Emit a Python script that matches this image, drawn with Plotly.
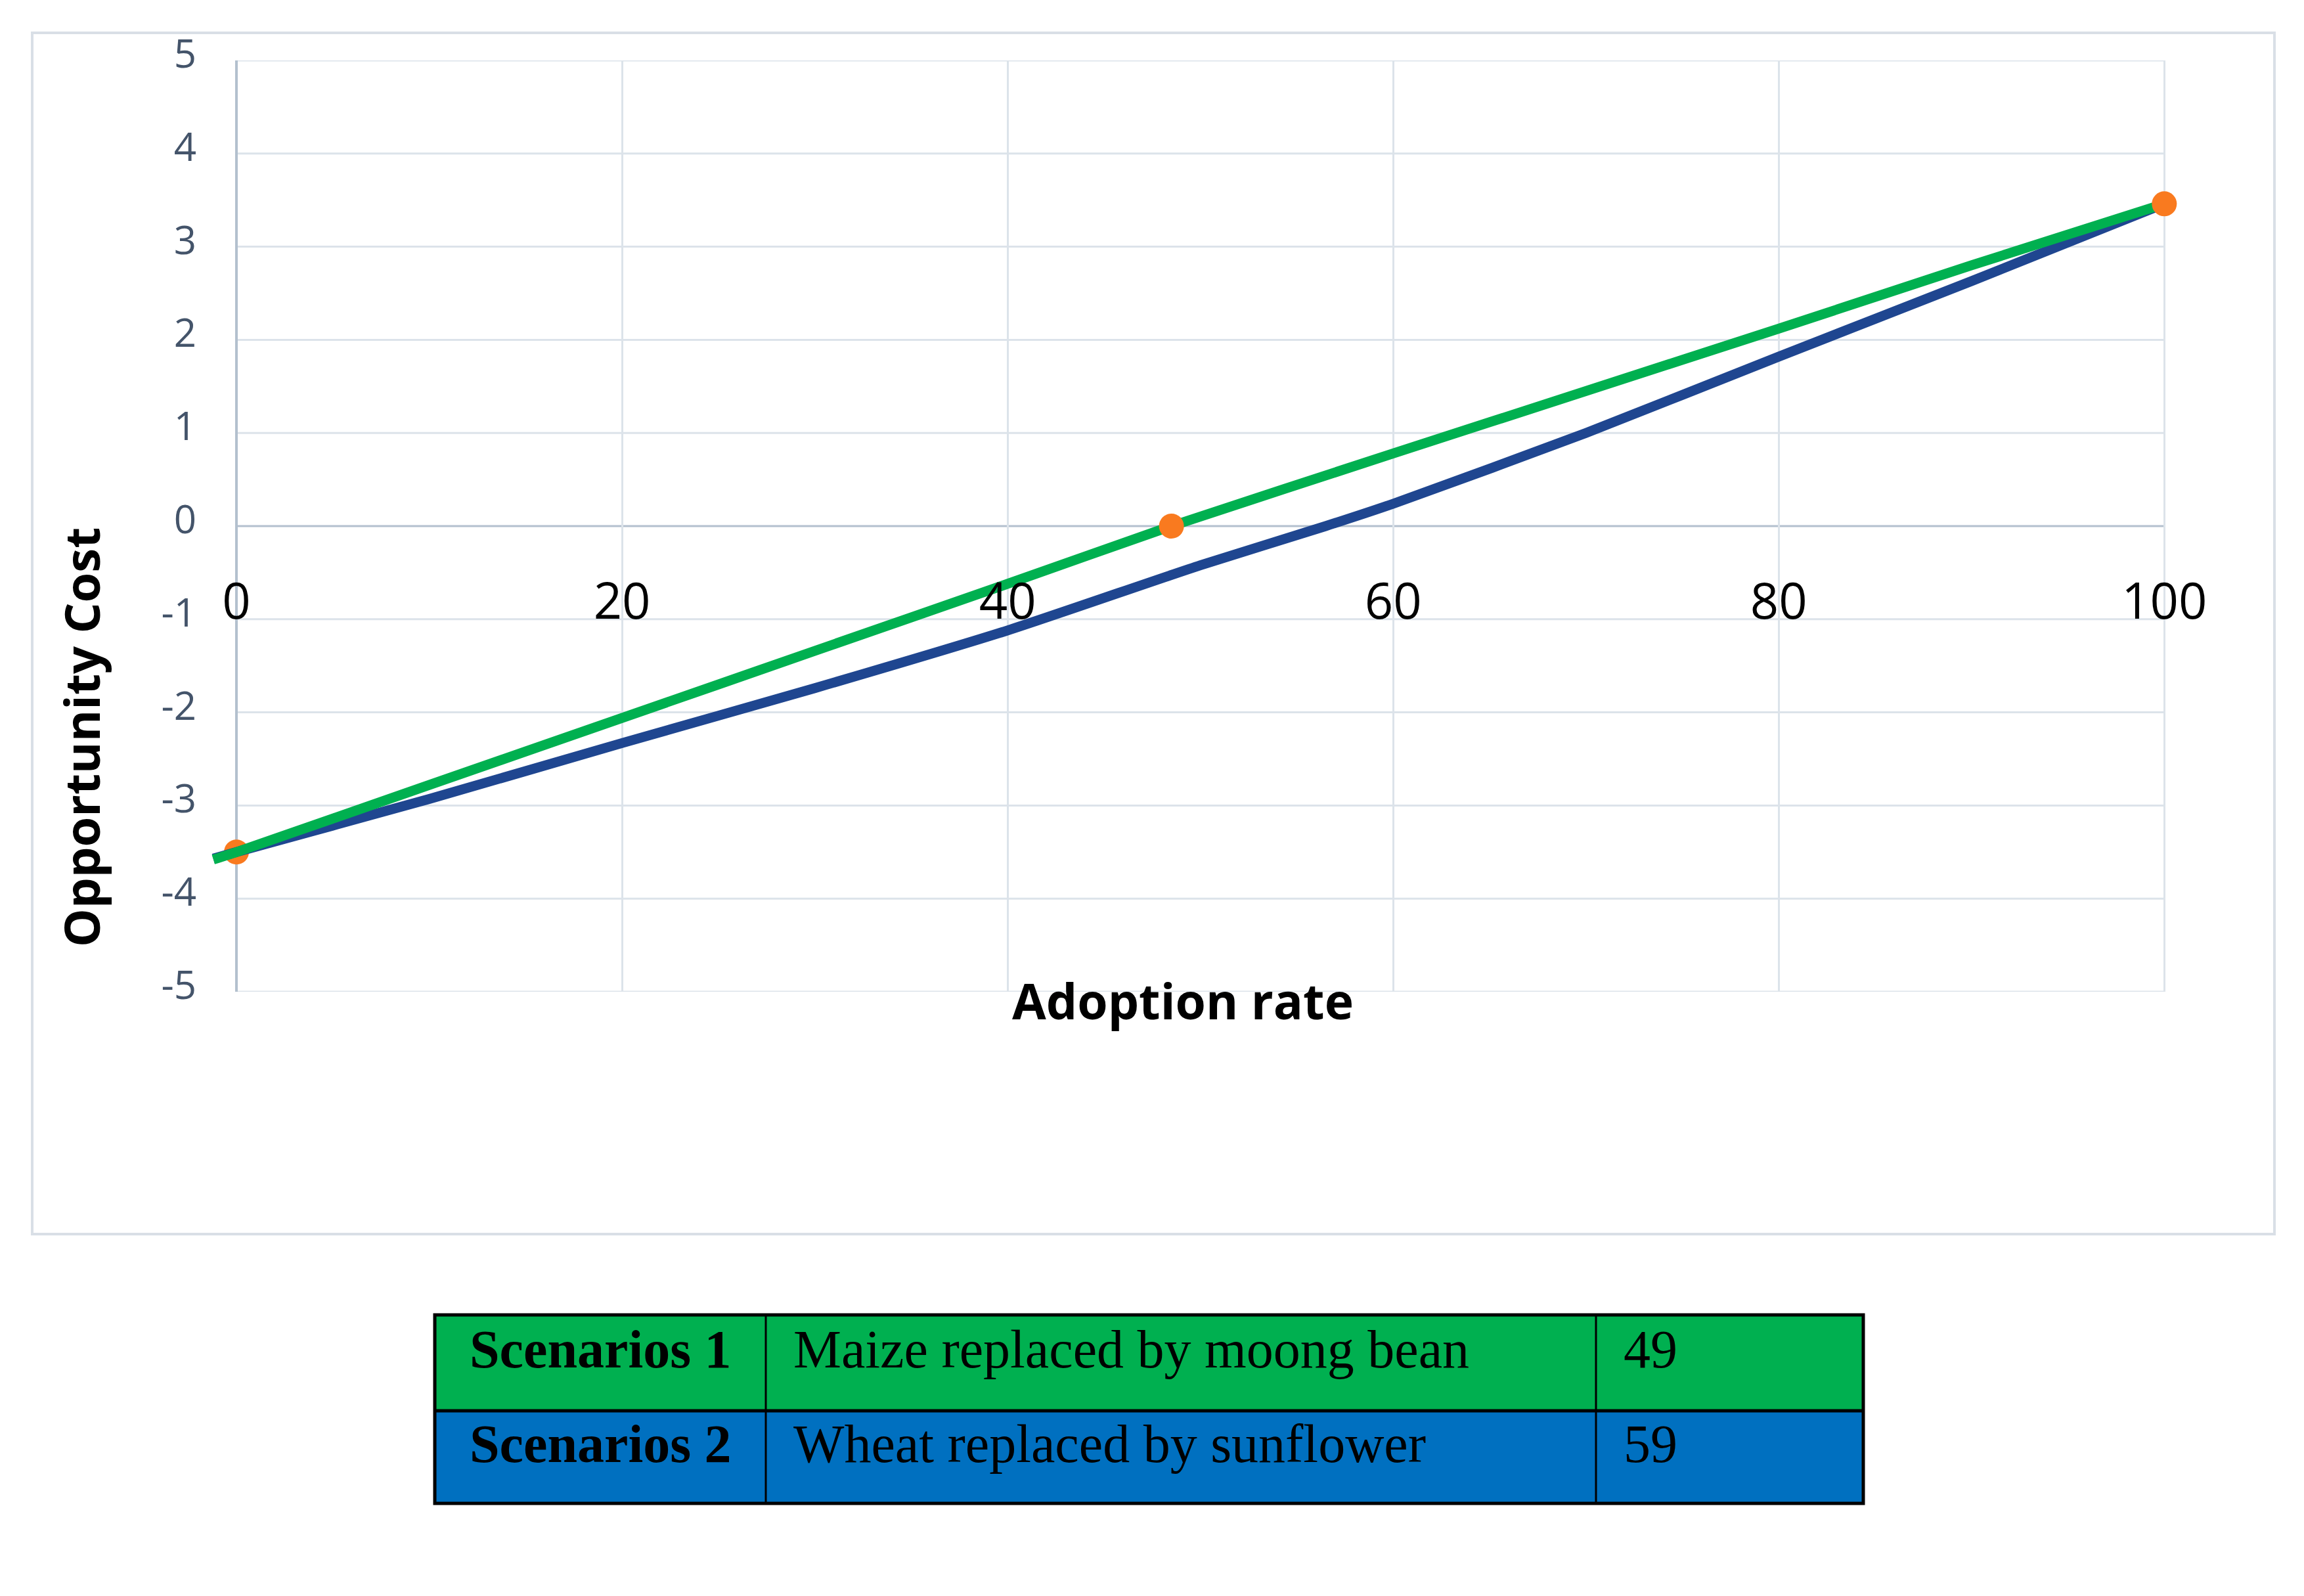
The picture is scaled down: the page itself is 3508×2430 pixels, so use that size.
import plotly.graph_objects as go

W, H = 3508, 2430

# ---------------- data ----------------
adoption_rate = [-1.2, 0, 10, 20, 30, 40, 48.5, 60, 70, 80, 90, 100]
scenario1_cost = [-3.58, -3.5, -2.78, -2.06, -1.34, -0.62, 0.0, 0.78, 1.45, 2.12, 2.8, 3.46]
adoption_rate2 = [-1.2, 0, 10, 20, 30, 40, 50, 56.5, 60, 70, 80, 90, 100]
scenario2_cost = [-3.57, -3.5, -2.93, -2.33, -1.74, -1.12, -0.42, 0.0, 0.24, 1.0, 1.82, 2.63, 3.46]
point_x_below = [0]
point_y_below = [-3.5]
point_x_above = [48.5, 100]
point_y_above = [0.0, 3.46]

x_ticks = [0, 20, 40, 60, 80, 100]
y_ticks = [-5, -4, -3, -2, -1, 0, 1, 2, 3, 4, 5]

table_col1 = ["Scenarios 1", "Scenarios 2"]
table_col2 = ["Maize replaced by moong bean", "Wheat replaced by sunflower"]
table_col3 = ["49", "59"]
table_colors = ["#00B050", "#0070C0"]

# ---------------- helpers (page body margin of 8px compensated) ----------------
OFF = 8

def px(x):
    return (x - OFF) / W

def py(y):
    return 1 - (y - OFF) / H

GREEN = "#00B050"
BLUE = "#1F4690"
ORANGE = "#F97A1F"
GRID = "#DCE3EA"
ZERO = "#B3C0CE"

fig = go.Figure()

fig.add_trace(go.Scatter(x=point_x_below, y=point_y_below, mode="markers",
                         marker=dict(size=38, color=ORANGE), cliponaxis=False,
                         showlegend=False, hoverinfo="skip"))
fig.add_trace(go.Scatter(x=adoption_rate2, y=scenario2_cost, mode="lines",
                         line=dict(color=BLUE, width=15, shape="spline", smoothing=0.6),
                         showlegend=False))
fig.add_trace(go.Scatter(x=adoption_rate, y=scenario1_cost, mode="lines",
                         line=dict(color=GREEN, width=15, shape="spline", smoothing=0.4),
                         showlegend=False))
fig.add_trace(go.Scatter(x=point_x_above, y=point_y_above, mode="markers",
                         marker=dict(size=38, color=ORANGE), cliponaxis=False,
                         showlegend=False, hoverinfo="skip"))

shapes = []
for v in y_ticks:
    shapes.append(dict(type="line", xref="x", yref="y", x0=0, x1=100, y0=v, y1=v,
                       line=dict(color=ZERO if v == 0 else GRID, width=3), layer="below"))
shapes.append(dict(type="rect", xref="paper", yref="paper",
                   x0=px(49), x1=px(3463), y0=py(1879), y1=py(50),
                   line=dict(color="#D9DFE6", width=4), layer="below"))

col_edges = [662, 1166, 2430, 2837]
row_edges = [2002, 2148, 2289]
for i, c in enumerate(table_colors):
    shapes.append(dict(type="rect", xref="paper", yref="paper",
                       x0=px(col_edges[0]), x1=px(col_edges[-1]),
                       y0=py(row_edges[i + 1]), y1=py(row_edges[i]),
                       fillcolor=c, line=dict(width=0), layer="above"))
for xe in col_edges[1:-1]:
    shapes.append(dict(type="line", xref="paper", yref="paper", x0=px(xe), x1=px(xe),
                       y0=py(row_edges[-1]), y1=py(row_edges[0]),
                       line=dict(color="black", width=3)))
shapes.append(dict(type="line", xref="paper", yref="paper", x0=px(col_edges[0]), x1=px(col_edges[-1]),
                   y0=py(row_edges[1]), y1=py(row_edges[1]), line=dict(color="black", width=5)))
shapes.append(dict(type="rect", xref="paper", yref="paper",
                   x0=px(col_edges[0]), x1=px(col_edges[-1]),
                   y0=py(row_edges[-1]), y1=py(row_edges[0]),
                   line=dict(color="black", width=5)))

TFONT = dict(family="Liberation Serif", size=82, color="black")
annotations = []
for i in range(2):
    yc = py((row_edges[i] + row_edges[i + 1]) / 2 - 20)
    annotations.append(dict(xref="paper", yref="paper", x=px((col_edges[0] + col_edges[1]) / 2), y=yc,
                            text="<b>" + table_col1[i] + "</b>", showarrow=False,
                            xanchor="center", yanchor="middle", font=TFONT))
    annotations.append(dict(xref="paper", yref="paper", x=px(col_edges[1] + 40), y=yc,
                            text=table_col2[i], showarrow=False,
                            xanchor="left", yanchor="middle", font=TFONT))
    annotations.append(dict(xref="paper", yref="paper", x=px(col_edges[2] + 40), y=yc,
                            text=table_col3[i], showarrow=False,
                            xanchor="left", yanchor="middle", font=TFONT))

annotations.append(dict(xref="paper", yref="paper", x=px(1801), y=py(1523),
                        text="<b>Adoption rate</b>", showarrow=False,
                        xanchor="center", yanchor="middle",
                        font=dict(family="Open Sans", size=75, color="black")))
annotations.append(dict(xref="paper", yref="paper", x=px(123), y=py(1123),
                        text="<b>Opportunity Cost</b>", showarrow=False, textangle=-90,
                        xanchor="center", yanchor="middle",
                        font=dict(family="Open Sans", size=74, color="black")))

y_dom = [py(1510), py(92)]
zero_pos = y_dom[0] + (y_dom[1] - y_dom[0]) * 0.5

fig.update_layout(
    template="none",
    width=W, height=H,
    margin=dict(l=0, r=0, t=0, b=0, pad=0),
    paper_bgcolor="white", plot_bgcolor="white",
    showlegend=False,
    shapes=shapes, annotations=annotations,
    xaxis=dict(range=[-1.5, 100.5], domain=[px(316), px(3310)],
               anchor="free", position=zero_pos, automargin=False,
               tickvals=x_ticks, ticktext=[str(v) for v in x_ticks],
               tickfont=dict(family="Open Sans", size=76, color="black"),
               ticks="", ticklabelstandoff=64,
               showgrid=True, gridcolor=GRID, gridwidth=3,
               zeroline=True, zerolinecolor=ZERO, zerolinewidth=4,
               showline=False),
    yaxis=dict(range=[-5, 5], domain=y_dom, automargin=False,
               tickvals=y_ticks, ticktext=[str(v) for v in y_ticks],
               tickfont=dict(family="Open Sans", size=60, color="#44546A"),
               ticks="", ticklabelstandoff=16, ticklabelshift=-10,
               showgrid=False, zeroline=False, showline=False),
)

fig.write_html("out.html")
